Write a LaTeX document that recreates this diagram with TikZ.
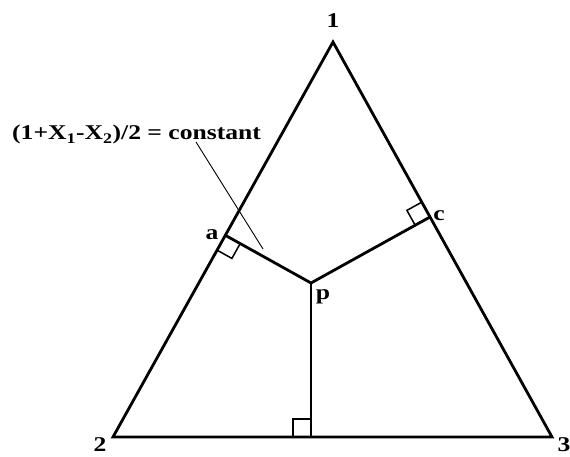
\documentclass[tikz,border=0pt]{standalone}
\usepackage{fontspec}
\setmainfont{Liberation Serif}[FakeStretch=1.22]
\usetikzlibrary{calc,positioning}

\begin{document}
\begin{tikzpicture}[
  x=1pt,y=-1pt,
  font=\fontsize{21}{24}\selectfont\bfseries,
  side/.style={line width=2.8pt,line join=miter},
  perp/.style={line width=2.8pt},
  rightang/.style={line width=1.5pt},
  leader/.style={line width=0.9pt},
  vlabel/.style={inner sep=0pt,anchor=base},
]
\useasboundingbox (0,0) rectangle (570,457);
% corners of the triangle and the inner point
\coordinate (v1) at (333,42);
\coordinate (v2) at (113,437);
\coordinate (v3) at (552,437);
\coordinate (p) at (311,283);
% feet of the perpendiculars
\coordinate (fa) at ($(v2)!(p)!(v1)$);
\coordinate (fc) at ($(v1)!(p)!(v3)$);
\coordinate (fb) at ($(v2)!(p)!(v3)$);

\draw[side] (v1) -- (v2) -- (v3) -- cycle;
\draw[perp] (fa) -- (p) -- (fc);
\draw[perp] (p) -- (fb);

% right angle marks
\coordinate (sa1) at ($(fa)!17pt!(v2)$);
\coordinate (sa2) at ($(fa)!17pt!(p)$);
\draw[rightang] (sa1) -- ($(sa1)+(sa2)-(fa)$) -- (sa2);
\coordinate (sc1) at ($(fc)!17pt!(v1)$);
\coordinate (sc2) at ($(fc)!17pt!(p)$);
\draw[rightang] (sc1) -- ($(sc1)+(sc2)-(fc)$) -- (sc2);
\coordinate (sb1) at ($(fb)!18pt!(v2)$);
\coordinate (sb2) at ($(fb)!18pt!(p)$);
\draw[rightang] (sb1) -- ($(sb1)+(sb2)-(fb)$) -- (sb2);

% labels
\node[vlabel] (n1) at (333,28) {1};
\node[vlabel] (n2) at (100,451) {2};
\node[vlabel] (n3) at (564,451) {3};
\node[vlabel] (na) at (212,240) {a};
\node[vlabel] (nc) at (439,220) {c};
\node[vlabel] (np) at (323,299) {p};

\node[inner sep=0pt,anchor=base west] (eq) at (12,140)
  {(1+X\textsubscript{1}-X\textsubscript{2})/2 = constant};
\coordinate (lead) at (263,249);
\draw[leader] (eq.base west) ++(184,2) -- (lead);
\end{tikzpicture}
\end{document}
